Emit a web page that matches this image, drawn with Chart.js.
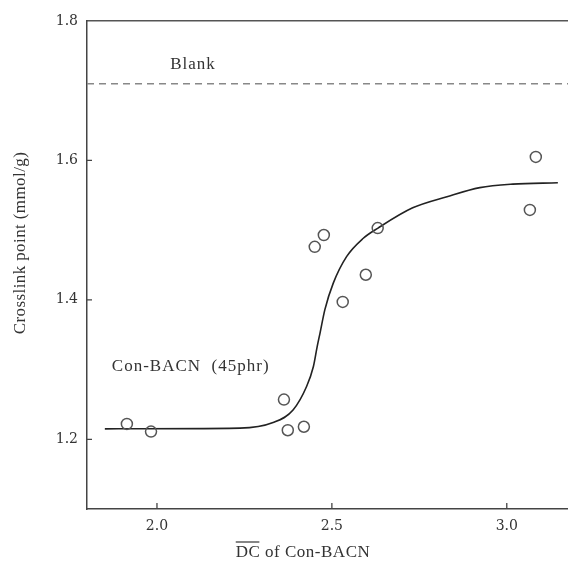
<!DOCTYPE html>
<html>
<head>
<meta charset="utf-8">
<script src="https://cdn.jsdelivr.net/npm/chart.js@4.4.1/dist/chart.umd.min.js"></script>
<style>
  html, body { margin: 0; padding: 0; background: #fff; }
  canvas { display: block; }
</style>
</head>
<body>
<canvas id="crosslinkChart" width="568" height="569"></canvas>
<script>
// measured points
const dcValues        = [1.914, 1.983, 2.363, 2.374, 2.420, 2.451, 2.477, 2.531, 2.597, 2.631, 3.066, 3.083];
const crosslinkValues = [1.222, 1.211, 1.257, 1.213, 1.218, 1.476, 1.493, 1.397, 1.436, 1.503, 1.529, 1.605];

// fitted curve
const fitX = [1.851, 2.237, 2.332, 2.389, 2.428, 2.447, 2.458, 2.466, 2.480, 2.504, 2.542, 2.589, 2.632, 2.731, 2.829, 2.923, 3.017, 3.146];
const fitY = [1.215, 1.216, 1.224, 1.242, 1.276, 1.304, 1.333, 1.352, 1.386, 1.424, 1.462, 1.488, 1.503, 1.532, 1.548, 1.561, 1.566, 1.568];

const blankLevel = 1.71;
const xTicks = [2.0, 2.5, 3.0];
const yTicks = [1.2, 1.4, 1.6, 1.8];

const serif = "'Liberation Serif', 'DejaVu Serif', serif";
const tickFont = "'DejaVu Serif', serif";
const ink = '#333';

// inward tick marks, notes, axis titles (x title has an overline on DC)
const extrasPlugin = {
    id: 'extras',
    afterDraw(chart) {
        const {ctx, scales: {x, y}, chartArea} = chart;
        ctx.save();
        ctx.strokeStyle = '#444';
        ctx.lineWidth = 1.3;
        ctx.beginPath();
        xTicks.forEach(v => {
            const px = x.getPixelForValue(v);
            ctx.moveTo(px, chartArea.bottom);
            ctx.lineTo(px, chartArea.bottom - 6);
        });
        yTicks.slice(0, 3).forEach(v => {
            const py = y.getPixelForValue(v);
            ctx.moveTo(chartArea.left, py);
            ctx.lineTo(chartArea.left + 5, py);
        });
        ctx.stroke();

        ctx.fillStyle = ink;
        ctx.font = '17px ' + serif;
        ctx.letterSpacing = '1px';
        ctx.textBaseline = 'middle';
        ctx.textAlign = 'center';
        ctx.fillText('Blank', x.getPixelForValue(2.103), y.getPixelForValue(1.737));
        ctx.textAlign = 'left';
        ctx.fillText('Con-BACN  (45phr)', x.getPixelForValue(1.871), y.getPixelForValue(1.305));

        // x axis title
        ctx.letterSpacing = '0.5px';
        const title = 'DC of Con-BACN';
        const w = ctx.measureText(title).width;
        const start = 303 - w / 2;
        ctx.fillText(title, start, 553);
        const dcW = ctx.measureText('DC').width;
        ctx.beginPath();
        ctx.lineWidth = 1.2;
        ctx.strokeStyle = ink;
        ctx.moveTo(start, 542);
        ctx.lineTo(start + dcW - 1, 542);
        ctx.stroke();

        // y axis title
        ctx.translate(21, 243);
        ctx.rotate(-Math.PI / 2);
        ctx.textAlign = 'center';
        ctx.letterSpacing = '0.4px';
        ctx.fillText('Crosslink point (mmol/g)', 0, 0);
        ctx.restore();
    }
};

const ctx = document.getElementById('crosslinkChart').getContext('2d');
const chart = new Chart(ctx, {
    type: 'scatter',
    data: {
        datasets: [{
            label: 'Con-BACN (45phr)',
            data: dcValues.map((v, i) => ({x: v, y: crosslinkValues[i]})),
            pointRadius: 5.5,
            pointBorderWidth: 1.5,
            pointBorderColor: '#555',
            pointBackgroundColor: 'rgba(255,255,255,0)',
            order: 1
        }, {
            label: 'fit',
            data: fitX.map((v, i) => ({x: v, y: fitY[i]})),
            showLine: true,
            pointRadius: 0,
            borderColor: '#222',
            borderWidth: 1.6,
            cubicInterpolationMode: 'monotone',
            order: 2
        }, {
            label: 'Blank',
            data: [{x: 1.8, y: blankLevel}, {x: 3.175, y: blankLevel}],
            showLine: true,
            pointRadius: 0,
            borderColor: '#888',
            borderWidth: 1.5,
            borderDash: [7, 5],
            order: 3
        }]
    },
    options: {
        responsive: false,
        animation: false,
        layout: { padding: 0, autoPadding: false },
        plugins: {
            legend: { display: false },
            tooltip: { enabled: false }
        },
        scales: {
            x: {
                type: 'linear',
                min: 1.8,
                max: 3.175,
                afterBuildTicks: s => { s.ticks = xTicks.map(v => ({value: v})); },
                afterFit: s => { s.height = 60; },
                grid: { display: false, drawTicks: false },
                border: { display: true, color: '#444', width: 1.5 },
                ticks: {
                    padding: 9,
                    color: ink,
                    font: { size: 14, family: tickFont },
                    callback: v => v.toFixed(1)
                }
            },
            x2: {
                type: 'linear',
                position: 'top',
                min: 1.8,
                max: 3.175,
                afterFit: s => { s.height = 21; },
                grid: { display: false, drawTicks: false },
                border: { display: true, color: '#555', width: 1.5 },
                ticks: { display: false }
            },
            y: {
                type: 'linear',
                min: 1.1,
                max: 1.8,
                afterBuildTicks: s => { s.ticks = yTicks.map(v => ({value: v})); },
                afterFit: s => { s.width = 87; },
                grid: { display: false, drawTicks: false },
                border: { display: true, color: '#444', width: 1.5 },
                ticks: {
                    padding: 9,
                    color: ink,
                    font: { size: 14, family: tickFont },
                    callback: v => v.toFixed(1)
                }
            }
        }
    },
    plugins: [extrasPlugin]
});
</script>
</body>
</html>
